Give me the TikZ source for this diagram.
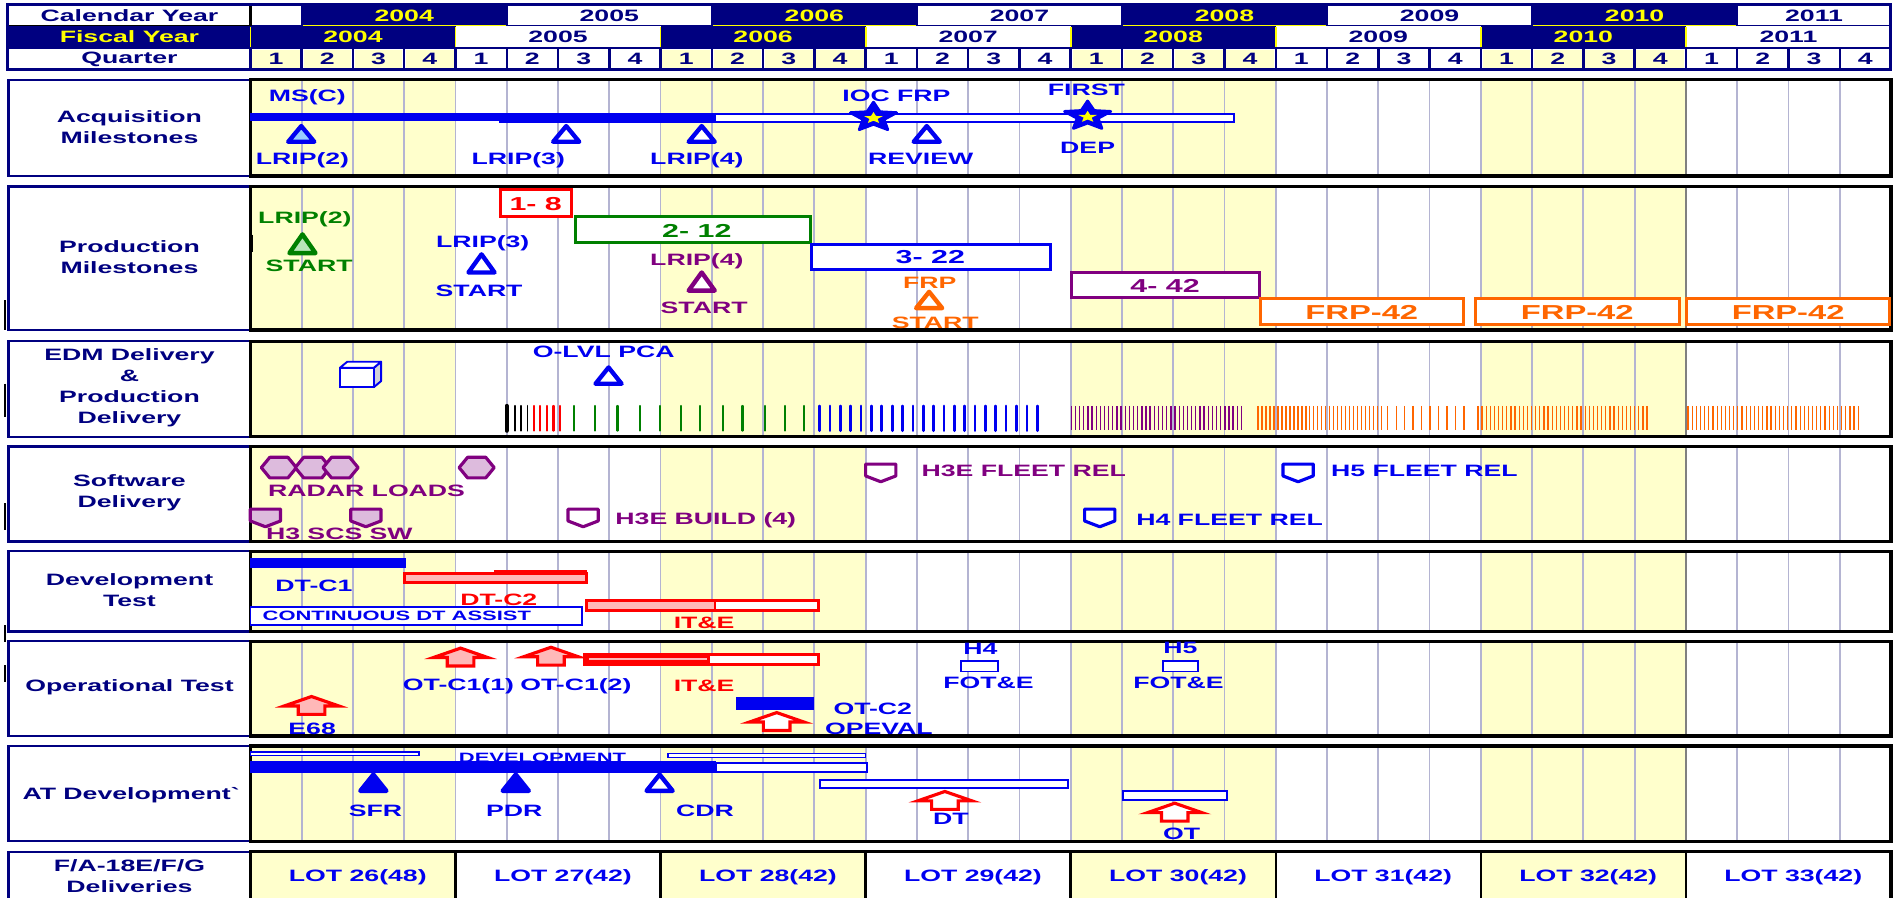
\documentclass[tikz,border=0pt]{standalone}
\usepackage{fontspec}
\setmainfont{Liberation Sans}[FakeStretch=1.62]
\usetikzlibrary{shapes.geometric}
\definecolor{navy}{HTML}{000080}
\definecolor{lyel}{HTML}{FFFFCC}
\definecolor{gridc}{HTML}{B4B4D2}
\definecolor{tblue}{HTML}{0000F0}
\definecolor{tgreen}{HTML}{008000}
\definecolor{tpurple}{HTML}{800080}
\definecolor{torange}{HTML}{FF6600}
\definecolor{tred}{HTML}{FF0000}
\definecolor{pinkf}{HTML}{FFB8B8}
\definecolor{thist}{HTML}{DDBBDD}
\definecolor{ltblue}{HTML}{99CCFF}
\definecolor{ltgreen}{HTML}{B8E6B8}
\definecolor{hyel}{HTML}{FFFF00}
\definecolor{sideg}{HTML}{D0D0D8}

\tikzset{
  base/.style={inner sep=0pt, font=\fontsize{13.6}{17.5}\selectfont\bfseries},
  plab/.style={base, text=navy, align=center},
  bl/.style={base, text=tblue},
  gl/.style={base, text=tgreen},
  pl/.style={base, text=tpurple},
  ol/.style={base, text=torange},
  rl/.style={base, text=tred},
  hdy/.style={base, text=hyel},
  hdn/.style={base, text=navy},
  boxlab/.style={inner sep=0pt, font=\fontsize{15.5}{18}\selectfont\bfseries},
  frplab/.style={inner sep=0pt, font=\fontsize{16.7}{18}\selectfont\bfseries, text=torange},
  smalltxt/.style={inner sep=0pt, font=\fontsize{11.2}{13}\selectfont\bfseries, text=tblue},
  tick/.style={line cap=round},
}

% timeline panel: top, bottom
\newcommand{\tlpanel}[2]{%
  \foreach \a in {0,8,16,24} {\fill[lyel] ({207+42.375*\a},#1) rectangle ({207+42.375*(\a+4)},#2);}
  \foreach \i in {1,...,31} {\draw[gridc,line width=1.5pt] ({207+42.375*\i},#1) -- ({207+42.375*\i},#2);}
  \draw[gray,line width=1.5pt] (1393.5,#1) -- (1393.5,#2);
  \draw[black,line width=2.6pt] (207,#1) rectangle (1563,#2);
}
% label box: top, bottom, text centre y, name, text
\newcommand{\lbox}[5]{%
  \draw[navy,line width=2pt,fill=white] (7,#1) rectangle (207,#2);
  \node[plab] (#4) at (107,#3) {#5};
}
% milestone triangle: x, ytop, ybottom, colour, fill
\newcommand{\mtri}[5]{%
  \draw[#4,fill=#5,line width=3.6pt,line join=round] ({#1-10.8},{#3-1.8}) -- (#1,{#2+1.2}) -- ({#1+10.8},{#3-1.8}) -- cycle;
}
% up block arrow: x, ytop, fill
\newcommand{\uparr}[3]{%
  \draw[tred,fill=#3,line width=2.6pt,line join=miter] (#1,{#2+1.2}) -- ({#1+22.5},{#2+9}) -- ({#1+11},{#2+9}) -- ({#1+11},{#2+16}) -- ({#1-11},{#2+16}) -- ({#1-11},{#2+9}) -- ({#1-22.5},{#2+9}) -- cycle;
}
% hexagon: x, y centre
\newcommand{\hexa}[2]{%
  \draw[tpurple,fill=thist,line width=2.6pt,line join=round] ({#1-14.5},#2) -- ({#1-7.5},{#2-8.5}) -- ({#1+7.5},{#2-8.5}) -- ({#1+14.5},#2) -- ({#1+7.5},{#2+8.5}) -- ({#1-7.5},{#2+8.5}) -- cycle;
}
% shield: x, ytop, colour, fill
\newcommand{\shld}[4]{%
  \draw[#3,fill=#4,line width=2.6pt,line join=round] ({#1-12.5},{#2+1.2}) -- ({#1+12.5},{#2+1.2}) -- ({#1+12.5},{#2+11}) -- (#1,{#2+15.8}) -- ({#1-12.5},{#2+11}) -- cycle;
}
% star: x, y, name
\newcommand{\mstar}[3]{%
  \begin{scope}[shift={(#1,#2)}, xscale=1.6]
    \node[star, star points=5, star point ratio=2.2, fill=tblue, draw=tblue, line width=2.4pt, line join=round, minimum size=25pt, inner sep=0pt, transform shape] (#3) at (0,0) {};
    \node[star, star points=5, star point ratio=2.3, fill=hyel, minimum size=10pt, inner sep=0pt, transform shape] (#3y) at (0,0.6) {};
  \end{scope}
}

\begin{document}
\begin{tikzpicture}[x=1pt,y=-1pt]
\useasboundingbox (0,0) rectangle (1568,742);
\fill[white] (0,0) rectangle (1568,742);

%================ HEADER =================
\foreach \a/\b/\c in {0/1/white,1/5/navy,5/9/white,9/13/navy,13/17/white,17/21/navy,21/25/white,25/29/navy,29/32/white}
  {\draw[navy,line width=1.5pt,fill=\c] ({207+42.375*\a},4) rectangle ({207+42.375*\b},21.5);}
\foreach \a in {1,9,17,25}
  {\draw[hyel,line width=1.5pt] ({207+42.375*\a+1},21.2) -- ({207+42.375*(\a+4)-1},21.2);}
\draw[black,line width=2pt,fill=white] (6,4) rectangle (207,21.5);
\node[hdn] (cy) at (107,12.8) {Calendar Year};
\foreach \y/\a/\b/\s in {2004/1/5/hdy,2005/5/9/hdn,2006/9/13/hdy,2007/13/17/hdn,2008/17/21/hdy,2009/21/25/hdn,2010/25/29/hdy,2011/29/32/hdn}
  {\node[\s] (cal\y) at ({207+42.375*(\a+\b)/2},12.8) {\y};}
\fill[navy] (6,21.5) rectangle (207,39.5);
\node[hdy] (fy) at (107,30.6) {Fiscal Year};
\foreach \a/\c in {0/navy,4/white,8/navy,12/white,16/navy,20/white,24/navy,28/white}
  {\fill[\c] ({207+42.375*\a},21.5) rectangle ({207+42.375*(\a+4)},39.5);}
\foreach \a in {0,4,...,28}
  {\draw[hyel,line width=1.5pt] ({207+42.375*\a},22.5) -- ({207+42.375*\a},38.5);}
\foreach \y/\a/\s in {2004/0/hdy,2005/4/hdn,2006/8/hdy,2007/12/hdn,2008/16/hdy,2009/20/hdn,2010/24/hdy,2011/28/hdn}
  {\node[\s] (fis\y) at ({207+42.375*(\a+2)},30.6) {\y};}
\draw[navy,line width=2pt,fill=white] (6,39.5) rectangle (207,57.5);
\node[hdn] (qu) at (107,48.7) {Quarter};
\foreach \i in {0,...,31}
  {\draw[navy,line width=2pt,fill=white] ({207+42.375*\i},39.5) rectangle ({207+42.375*(\i+1)},57.5);}
\foreach \i in {0,1,2,3,8,9,10,11,16,17,18,19,24,25,26,27}
  {\fill[lyel] ({207+42.375*\i+1.5},41) rectangle ({207+42.375*(\i+1)-1.5},56);}
\foreach \i in {0,...,31}
  {\pgfmathtruncatemacro\qn{mod(\i,4)+1}
   \node[hdn] (q\i) at ({207+42.375*(\i+0.5)},48.7) {\qn};}
\draw[navy,line width=2.5pt] (6,4) rectangle (1563,57.5);

%================ PANEL 1: Acquisition =================
\lbox{66}{145.5}{104.8}{acq}{Acquisition\\Milestones}
\tlpanel{66}{145.5}
\draw[tblue,line width=1.5pt,fill=white] (413.4,94.5) rectangle (1020,101);
\fill[tblue] (207,93.7) rectangle (592,99.8);
\node[bl] (msc) at (254,80) {MS(C)};
\mtri{249}{103}{119}{tblue}{ltblue}
\node[bl] (al2) at (250,132.8) {LRIP(2)};
\mtri{468}{103}{119}{tblue}{white}
\node[bl] (al3) at (428.4,132.8) {LRIP(3)};
\mtri{580}{103}{119}{tblue}{white}
\node[bl] (al4) at (576,132.8) {LRIP(4)};
\node[bl] (ioc) at (741,79) {IOC FRP};
\mstar{722}{97}{s1}
\mtri{766}{103}{119}{tblue}{white}
\node[bl] (rev) at (761,131.5) {REVIEW};
\node[bl] (first) at (898,74) {FIRST};
\mstar{899}{96}{s2}
\node[bl] (dep) at (899,122) {DEP};

%================ PANEL 2: Production =================
\lbox{154.3}{272.8}{212.6}{prod}{Production\\Milestones}
\tlpanel{154.3}{272.8}
\node[gl] (pl2) at (252,181.3) {LRIP(2)};
\mtri{250}{192.5}{211}{tgreen}{ltgreen}
\node[gl] (ps2) at (255.5,219.6) {START};
\node[bl] (pl3) at (399,201) {LRIP(3)};
\mtri{398}{209}{227}{tblue}{white}
\node[bl] (ps3) at (396,240.3) {START};
\draw[tred,line width=2.5pt,fill=white] (413.3,157) rectangle (472.4,178.8);
\node[boxlab,text=tred] (b18) at (442.8,168.3) {1- 8};
\draw[tgreen,line width=2.5pt,fill=white] (475.3,179.3) rectangle (669.7,200.3);
\node[boxlab,text=tgreen] (b212) at (576,190.5) {2- 12};
\node[pl] (pl4) at (576,215.7) {LRIP(4)};
\mtri{580}{224}{242}{tpurple}{white}
\node[pl] (ps4) at (582,254.8) {START};
\draw[tblue,line width=2.5pt,fill=white] (671,202) rectangle (868.6,222.4);
\node[boxlab,text=tblue] (b322) at (769,212.8) {3- 22};
\node[ol] (pfrp) at (768.5,234) {FRP};
\mtri{768}{240}{256.5}{torange}{white}
\node[ol] (psf) at (773,266.5) {START};
\draw[tpurple,line width=2.5pt,fill=white] (885.6,225.4) rectangle (1040.7,245.8);
\node[boxlab,text=tpurple] (b442) at (963,236.3) {4- 42};
\draw[torange,line width=2.5pt,fill=white] (1041.7,246.8) rectangle (1209.6,268.5);
\node[frplab] (f1) at (1125.6,258) {FRP-42};
\draw[torange,line width=2.5pt,fill=white] (1219.6,246.8) rectangle (1387.8,268.5);
\node[frplab] (f2) at (1303.7,258) {FRP-42};
\draw[torange,line width=2.5pt,fill=white] (1394,246.8) rectangle (1561.8,268.5);
\node[frplab] (f3) at (1478,258) {FRP-42};

%================ PANEL 3: EDM =================
\lbox{282}{361}{320.5}{edm}{EDM Delivery\\\&\\Production\\Delivery}
\tlpanel{282}{361}
\draw[tblue,line width=1.6pt,fill=sideg,line join=round] (309,304) -- (315,299) -- (315,315) -- (309,320) -- cycle;
\draw[tblue,line width=1.6pt,fill=white,line join=round] (281,304) -- (287,299) -- (315,299) -- (309,304) -- cycle;
\draw[tblue,line width=1.6pt,fill=white] (281,304) rectangle (309,320);
\node[bl] (olvl) at (499,290.5) {O-LVL PCA};
\mtri{503}{302.5}{319}{tblue}{white}
\draw[tick,black,line width=3.4pt] (418.8,335.5) -- (418.8,356);
\foreach \x in {425.5,431,436} {\draw[tick,black,line width=1.6pt] (\x,335.5) -- (\x,356);}
\foreach \x in {441,446.5,452,457.5,462.5} {\draw[tick,tred,line width=1.7pt] (\x,335.5) -- (\x,356);}
\foreach \x in {474.5,491.9,510.4,529,545.2,562.6,578.9,597.4,613.7,632.2,648.5,664.2} {\draw[tick,tgreen,line width=1.7pt] (\x,335.5) -- (\x,356);}
\foreach \k in {0,...,21} {\draw[tick,tblue,line width=2.2pt] ({677.5+8.563*\k},335.5) -- ({677.5+8.563*\k},356);}
\foreach \k in {0,...,41} {\draw[tpurple,line width=1.1pt] ({885.5+3.43*\k},335.5) -- ({885.5+3.43*\k},355.5);}
\foreach \k in {0,...,31} {\draw[torange,line width=1pt] ({1039.8+3.3*\k},335.5) -- ({1039.8+3.3*\k},355.5);}
\foreach \k in {0,...,9} {\draw[torange,line width=1pt] ({1147+7*\k},335.5) -- ({1147+7*\k},355.5);}
\foreach \k in {0,...,41} {\draw[torange,line width=1pt] ({1221.6+3.41*\k},335.5) -- ({1221.6+3.41*\k},355.5);}
\foreach \k in {0,...,41} {\draw[torange,line width=1pt] ({1395.3+3.43*\k},335.5) -- ({1395.3+3.43*\k},355.5);}

%================ PANEL 4: Software =================
\lbox{369}{447.5}{407}{sw}{Software\\Delivery}
\tlpanel{369}{447.5}
\hexa{230.5}{386.5}
\hexa{258.5}{386.5}
\hexa{281.5}{386.5}
\hexa{394}{386.5}
\node[pl] (radar) at (303,405.6) {RADAR LOADS};
\shld{219.4}{419.6}{tpurple}{thist}
\shld{302.4}{419.6}{tpurple}{thist}
\node[pl] (h3scs) at (280.5,441.3) {H3 SCS SW};
\shld{482}{419.6}{tpurple}{white}
\node[pl,anchor=west] (h3eb) at (508.5,429.8) {H3E BUILD (4)};
\shld{728}{382.4}{tpurple}{white}
\node[pl,anchor=west] (h3ef) at (761.5,389.3) {H3E FLEET REL};
\shld{1073}{382.4}{tblue}{white}
\node[bl,anchor=west] (h5f) at (1100,389.3) {H5 FLEET REL};
\shld{909}{419.6}{tblue}{white}
\node[bl,anchor=west] (h4f) at (939,429.3) {H4 FLEET REL};

%================ PANEL 5: Development Test =================
\lbox{455.5}{522}{487.7}{dt}{Development\\Test}
\tlpanel{455.5}{522}
\fill[tblue] (207,461.5) rectangle (335.6,469.8);
\node[bl] (dtc1) at (259.5,484) {DT-C1};
\draw[tred,line width=2.5pt,fill=pinkf] (409.8,472) rectangle (484,479);
\draw[tred,line width=2.5pt,fill=pinkf] (334.6,474) rectangle (485,481.6);
\node[rl] (dtc2) at (412.3,496.2) {DT-C2};
\draw[tblue,line width=1.5pt,fill=white] (207,501.5) rectangle (481,516.6);
\node[smalltxt] (cdt) at (328,509.4) {CONTINUOUS DT ASSIST};
\fill[white] (485,496.5) rectangle (676.3,505);
\fill[pinkf] (485,496.5) rectangle (591.2,505);
\draw[tred,line width=2.5pt] (485,496.5) rectangle (676.3,505);
\draw[tred,line width=2pt] (591.2,496.5) -- (591.2,505);
\node[rl] (ite1) at (582,515.2) {IT\&E};

%================ PANEL 6: Operational Test =================
\lbox{530}{608.4}{568.1}{ot}{Operational Test}
\tlpanel{530}{608.4}
\uparr{257.5}{574.5}{pinkf}
\node[bl] (e68) at (258,602.6) {E68};
\uparr{380.7}{534.5}{pinkf}
\uparr{455.4}{533.8}{pinkf}
\node[bl] (otc11) at (379,567.6) {OT-C1(1)};
\node[bl] (otc12) at (476,567.6) {OT-C1(2)};
\fill[white] (483.5,540.6) rectangle (676.3,548.9);
\fill[tred] (483.5,540.6) rectangle (587,548.9);
\draw[pinkf,line width=1.2pt] (487,544.75) -- (584,544.75);
\draw[tred,line width=2.5pt] (483.5,540.6) rectangle (676.3,548.9);
\node[rl] (ite2) at (582,566.8) {IT\&E};
\fill[tblue] (608.7,576.4) rectangle (672.8,586.9);
\uparr{642}{587.8}{white}
\node[bl] (otc2) at (721.4,586) {OT-C2};
\node[bl] (opev) at (726.4,602.6) {OPEVAL};
\node[bl] (h4) at (810.3,535.9) {H4};
\draw[tblue,line width=1.5pt,fill=white] (794.5,546.2) rectangle (824.7,555);
\node[bl] (fote4) at (817,564) {FOT\&E};
\node[bl] (h5) at (975.6,535.9) {H5};
\draw[tblue,line width=1.5pt,fill=white] (961.2,546.2) rectangle (990.3,555);
\node[bl] (fote5) at (974.1,564) {FOT\&E};

%================ PANEL 7: AT Development =================
\lbox{616.6}{695.2}{657.1}{at}{AT Development\textasciigrave}
\tlpanel{616.6}{695.2}
\draw[tblue,line width=1.2pt,fill=white] (207,621.6) rectangle (346.3,624.6);
\draw[tblue,line width=1.2pt,fill=white] (552.2,623) rectangle (715.2,626);
\node[smalltxt] (devt) at (448.4,626) {DEVELOPMENT};
\draw[tblue,line width=1.8pt,fill=white] (591.7,630.4) rectangle (716.4,637.8);
\fill[tblue] (207,628.8) rectangle (591.7,638.7);
\mtri{308.6}{639}{655.5}{tblue}{tblue}
\mtri{426.3}{639}{655.5}{tblue}{tblue}
\mtri{545.2}{639}{655.5}{tblue}{white}
\node[bl] (sfr) at (310.3,670) {SFR};
\node[bl] (pdr) at (425,670) {PDR};
\node[bl] (cdr) at (582.8,670) {CDR};
\draw[tblue,line width=1.6pt,fill=white] (677.5,644.7) rectangle (882.8,651.6);
\uparr{781}{653}{white}
\node[bl] (dtl) at (786,677.2) {DT};
\draw[tblue,line width=1.6pt,fill=white] (928,653.8) rectangle (1014.2,661.3);
\uparr{971}{662.7}{white}
\node[bl] (otl) at (976.6,689.6) {OT};

%================ PANEL 8: Deliveries =================
\lbox{704}{752}{724}{del}{F/A-18E/F/G\\Deliveries}
\foreach \a in {0,8,16,24} {\fill[lyel] ({207+42.375*\a},704) rectangle ({207+42.375*(\a+4)},752);}
\foreach \a in {4,8,...,28} {\draw[black,line width=2pt] ({207+42.375*\a},704) -- ({207+42.375*\a},752);}
\draw[black,line width=2.6pt] (207,704) rectangle (1563,752);
\foreach \n/\l [count=\c from 0] in {26/48,27/42,28/42,29/42,30/42,31/42,32/42,33/42}
  {\node[bl] (lot\n) at ({207+42.375*(4*\c+2)+4},725.2) {LOT \n(\l)};}

% small stray marks at the left edge
\foreach \ya/\yb in {248/273,317/345,416/438,517/531,550/564}
  {\draw[black,line width=1.5pt] (4,\ya) -- (4,\yb);}
\draw[black,line width=2.5pt] (207.5,194) -- (207.5,208);
\end{tikzpicture}
\end{document}
